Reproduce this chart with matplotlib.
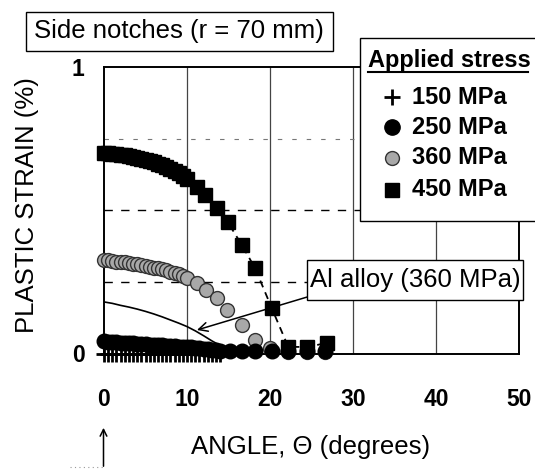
"""
Plastic strain vs. angle around side notches (r = 70 mm).
"""

import matplotlib
matplotlib.use('Agg')
import matplotlib.pyplot as plt
from matplotlib.lines import Line2D
from matplotlib.patches import Rectangle, FancyArrowPatch

# ---- data ------------------------------------------------------------------
# 150 MPa (+)
angle_150 = [0, 0.5, 1, 1.5, 2, 2.5, 3, 3.5, 4, 4.5, 5, 5.5, 6, 6.5, 7, 7.5,
             8, 8.5, 9, 9.5, 10, 10.5, 11, 11.5, 12, 12.5, 13, 13.5, 14]
strain_150 = [0.0, 0.0, 0.0, 0.0, 0.0, 0.0, 0.0, 0.0, 0.0, 0.0, 0.0, 0.0,
              0.0, 0.0, 0.0, 0.0, 0.0, 0.0, 0.0, 0.0, 0.0, 0.0, 0.0, 0.0,
              0.0, 0.0, 0.0, 0.0, 0.0]

# 250 MPa (filled circle)
angle_250 = [0, 0.5, 1, 1.5, 2, 2.5, 3, 3.5, 4, 4.5, 5, 5.5, 6, 6.5, 7, 7.5,
             8, 8.5, 9, 9.5, 10, 10.5, 11, 11.5, 12, 12.5, 13, 13.5, 14,
             15.2, 16.6, 18.2, 20.2, 22.2, 24.5, 26.6]
strain_250 = [0.042, 0.041, 0.040, 0.039, 0.038, 0.037, 0.036, 0.035, 0.034,
              0.033, 0.032, 0.031, 0.030, 0.029, 0.028, 0.027, 0.026, 0.025,
              0.024, 0.023, 0.022, 0.021, 0.019, 0.018, 0.016, 0.015, 0.013,
              0.012, 0.010, 0.009, 0.009, 0.009, 0.009, 0.009, 0.009, 0.009]

# 360 MPa (grey circle)
angle_360 = [0, 0.5, 1, 1.5, 2, 2.5, 3, 3.5, 4, 4.5, 5, 5.5, 6, 6.5, 7, 7.5,
             8, 8.5, 9, 9.5, 10, 11.2, 12.3, 13.6, 14.8, 16.6, 18.2, 20.0,
             22.2, 24.5, 26.6]
strain_360 = [0.325, 0.325, 0.323, 0.321, 0.320, 0.318, 0.316, 0.314, 0.312,
              0.309, 0.306, 0.303, 0.300, 0.297, 0.294, 0.290, 0.286, 0.281,
              0.276, 0.270, 0.263, 0.246, 0.222, 0.194, 0.152, 0.100, 0.047,
              0.019, 0.006, 0.006, 0.006]

# 450 MPa (filled square)
angle_450 = [0, 0.5, 1, 1.5, 2, 2.5, 3, 3.5, 4, 4.5, 5, 5.5, 6, 6.5, 7, 7.5,
             8, 8.5, 9, 9.5, 10, 11.2, 12.2, 13.6, 14.9, 16.6, 18.2, 20.2,
             22.2, 24.5, 26.9]
strain_450 = [0.700, 0.700, 0.698, 0.696, 0.694, 0.692, 0.690, 0.687, 0.684,
              0.680, 0.676, 0.672, 0.667, 0.662, 0.657, 0.651, 0.645, 0.638,
              0.631, 0.620, 0.610, 0.580, 0.553, 0.508, 0.459, 0.379, 0.298,
              0.159, 0.023, 0.023, 0.037]

# Al alloy at 360 MPa (thin line)
angle_al = [0, 1, 2, 3, 4, 5, 6, 7, 8, 9, 10, 11, 12, 13, 14, 15, 16, 17, 18]
strain_al = [0.180, 0.175, 0.168, 0.162, 0.155, 0.147, 0.138, 0.128, 0.117,
             0.106, 0.094, 0.079, 0.062, 0.044, 0.028, 0.015, 0.007, 0.002,
             0.0]

legend_labels = ['150 MPa', '250 MPa', '360 MPa', '450 MPa']
x_ticks = [0, 10, 20, 30, 40, 50]
y_ticks = [0, 1]

plt.rcParams['font.family'] = ['Liberation Sans', 'DejaVu Sans']

W, H = 535, 470


def fx(px):
    return px / W


def fy(py):
    return 1 - py / H


fig = plt.figure(figsize=(W / 100, H / 100), dpi=100)
ax = fig.add_axes([fx(104), fy(353.5), fx(519) - fx(104), fy(67) - fy(353.5)])

ax.set_xlim(0, 50)
ax.set_ylim(0, 1)

# grid: solid verticals, dashed horizontals
for xv in [10, 20, 30, 40]:
    ax.axvline(xv, color='#444444', lw=0.9, zorder=1)
for yv in [0.25, 0.5]:
    ax.axhline(yv, color='black', lw=1.0, ls=(0, (6, 6)), zorder=1)
ax.axhline(0.75, color='#777777', lw=0.8, ls=(0, (4, 9)), zorder=1)

# series
ax.plot(angle_al, strain_al, color='black', lw=1.2, zorder=3)
ax.plot(angle_450, strain_450, color='black', lw=1.3, ls=(0, (4, 3)), zorder=3,
        clip_on=False)
ax.plot(angle_450, strain_450, ls='none', marker='s', ms=10, color='black',
        zorder=4, clip_on=False)
ax.plot(angle_360, strain_360, ls='none', marker='o', ms=10,
        markerfacecolor='#a8a8a8', markeredgecolor='#333333', mew=1.0,
        zorder=4, clip_on=False)
ax.plot(angle_150, strain_150, ls='none', marker='+', ms=11, mew=2,
        color='black', zorder=5, clip_on=False)
ax.plot(angle_250, strain_250, ls='none', marker='o', ms=10.5, color='black',
        zorder=5, clip_on=False)

# Al alloy label + arrow
ax.add_patch(Rectangle((24.46, 0.187), 26.0, 0.139, facecolor='white',
                       edgecolor='black', lw=1.0, zorder=6, clip_on=False))
ax.text(37.5, 0.257, 'Al alloy (360 MPa)', ha='center', va='center',
        fontsize=18.5, zorder=7)
ax.annotate('', xy=(11.2, 0.082), xytext=(24.46, 0.197),
            arrowprops=dict(arrowstyle='->', color='black', lw=1.1,
                            mutation_scale=16, shrinkA=0, shrinkB=0),
            zorder=6)

# axes styling
for side in ['left', 'right', 'top', 'bottom']:
    ax.spines[side].set_linewidth(1.4)
ax.set_xticks(x_ticks)
ax.set_yticks(y_ticks)
ax.tick_params(length=0)
ax.tick_params(axis='x', pad=25)
ax.tick_params(axis='y', pad=14)
for lab in ax.get_xticklabels() + ax.get_yticklabels():
    lab.set_fontsize(16.5)
    lab.set_fontweight('bold')

fig.text(fx(27), fy(205), 'PLASTIC STRAIN (%)', rotation=90, ha='center',
         va='center', fontsize=18.5)
fig.text(fx(311), fy(447), 'ANGLE, \u0398 (degrees)', ha='center',
         va='center', fontsize=18.5)

# title box
fig.patches.append(Rectangle((fx(26), fy(51)), fx(333) - fx(26),
                             fy(12) - fy(51), transform=fig.transFigure,
                             facecolor='white', edgecolor='black', lw=1.0))
fig.text(fx(179), fy(31), 'Side notches (r = 70 mm)', ha='center',
         va='center', fontsize=18.5)

# legend, drawn by hand so it runs off the right edge like the original
fig.patches.append(Rectangle((fx(360), fy(221)), fx(560) - fx(360),
                             fy(38) - fy(221), transform=fig.transFigure,
                             facecolor='white', edgecolor='black', lw=1.0,
                             zorder=8))
fig.text(fx(368), fy(60), 'Applied stress', ha='left', va='center',
         fontsize=17, fontweight='bold', zorder=9)
fig.add_artist(Line2D([fx(368), fx(528)], [fy(72), fy(72)],
                      transform=fig.transFigure, color='black', lw=1.5,
                      zorder=9))

legend_styles = [
    dict(marker='+', ms=11, mew=2, color='black'),
    dict(marker='o', ms=11, color='black'),
    dict(marker='o', ms=10, markerfacecolor='#a8a8a8',
         markeredgecolor='#333333', mew=1.0),
    dict(marker='s', ms=10, color='black'),
]
legend_rows = [97, 127, 158, 190]
for label, style, row in zip(legend_labels, legend_styles, legend_rows):
    fig.add_artist(Line2D([fx(392)], [fy(row)], transform=fig.transFigure,
                          ls='none', zorder=9, **style))
    fig.text(fx(412), fy(row), label, ha='left', va='center', fontsize=17,
             fontweight='bold', zorder=9)

# small arrow under the origin
fig.add_artist(Line2D([fx(70), fx(103)], [fy(467), fy(467)],
                      transform=fig.transFigure, color='#999999', lw=0.8,
                      ls=(0, (1, 3))))
fig.patches.append(FancyArrowPatch(
    (fx(103.5), fy(469)), (fx(103.5), fy(425)), transform=fig.transFigure,
    arrowstyle='->', mutation_scale=12, color='black', lw=1.1))

fig.savefig('out.png', dpi=100)
